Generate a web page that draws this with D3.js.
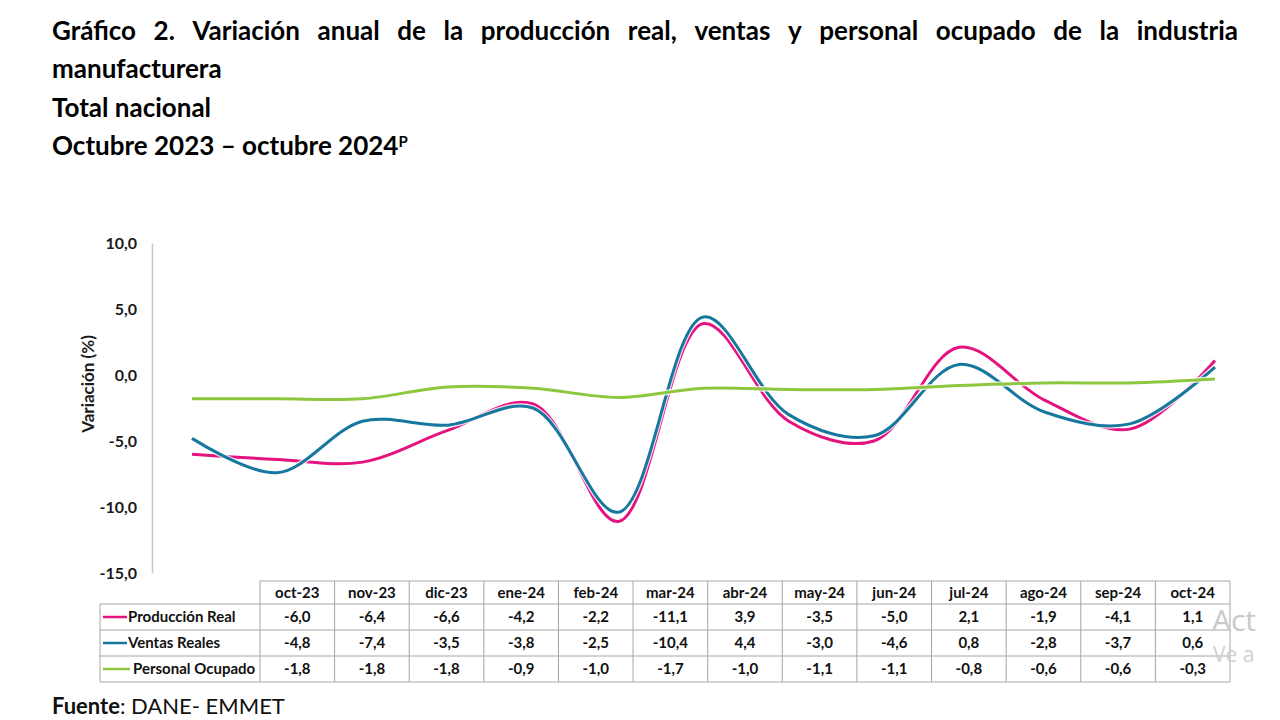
<!DOCTYPE html>
<html><head><meta charset="utf-8">
<script src="https://cdn.jsdelivr.net/npm/d3@7"></script>
<style>body{margin:0;background:#fff}svg{display:block}</style>
</head><body>
<svg id="c" width="1280" height="720"></svg>
<script>
const months = ["oct-23","nov-23","dic-23","ene-24","feb-24","mar-24","abr-24","may-24","jun-24","jul-24","ago-24","sep-24","oct-24"];
const produccionReal = [-6.0,-6.4,-6.6,-4.2,-2.2,-11.1,3.9,-3.5,-5.0,2.1,-1.9,-4.1,1.1];
const ventasReales = [-4.8,-7.4,-3.5,-3.8,-2.5,-10.4,4.4,-3.0,-4.6,0.8,-2.8,-3.7,0.6];
const personalOcupado = [-1.8,-1.8,-1.8,-0.9,-1.0,-1.7,-1.0,-1.1,-1.1,-0.8,-0.6,-0.6,-0.3];
const seriesNames = ["Producción Real","Ventas Reales","Personal Ocupado"];
const seriesColors = ["#e5137f","#17789f","#8dc63f"];
const yTicks = [10,5,0,-5,-10,-15];

const series = [produccionReal, ventasReales, personalOcupado];
const svg = d3.select("#c");
const FONT = "Lato, 'Open Sans', sans-serif";
const fmt = v => d3.format(".1f")(v).replace(".", ",").replace("−","-");

// Title
const tg = svg.append("g").attr("font-family", FONT).attr("font-weight", 700).attr("font-size", 26).attr("fill", "#000");
function justify(text, x0, x1, yy) {
  const words = text.split(" ");
  const nodes = words.map(w => tg.append("text").attr("y", yy).text(w));
  const widths = nodes.map(n => n.node().getComputedTextLength());
  const gap = (x1 - x0 - d3.sum(widths)) / (words.length - 1);
  let xx = x0;
  nodes.forEach((n, i) => { n.attr("x", xx); xx += widths[i] + gap; });
}
justify("Gráfico 2. Variación anual de la producción real, ventas y personal ocupado de la industria", 52, 1238, 40);
tg.append("text").attr("x", 52).attr("y", 78).text("manufacturera");
tg.append("text").attr("x", 52).attr("y", 117).text("Total nacional");
const t4 = tg.append("text").attr("x", 52).attr("y", 155).text("Octubre 2023 – octubre 2024");
t4.append("tspan").attr("font-size", 15).attr("dy", -8).text("P");

// Scales
const x = d3.scalePoint().domain(months).range([192, 1215]);
const y = d3.scaleLinear().domain([-15, 10]).range([573, 243]);

// Y axis
const ya = svg.append("g").attr("transform", "translate(152,0)")
  .call(d3.axisLeft(y).tickValues(yTicks).tickSize(0).tickPadding(15).tickFormat(fmt));
ya.select(".domain").attr("stroke", "#c8c8c8").attr("stroke-width", 1.5);
ya.selectAll("text").attr("font-family", FONT).attr("font-weight", 700).attr("font-size", 16).attr("fill", "#1a1a1a");

svg.append("text").attr("transform", "translate(94,384) rotate(-90)")
  .attr("text-anchor", "middle").attr("font-family", FONT).attr("font-weight", 700)
  .attr("font-size", 17).attr("fill", "#1a1a1a").text("Variación (%)");

// Lines
const line = d3.line().x((d, i) => x(months[i])).y(d => y(d)).curve(d3.curveCatmullRom.alpha(0.5));
const lg = svg.append("g").attr("fill", "none");
series.forEach((s, i) => {
  lg.append("path").attr("d", line(s)).attr("stroke", "#fff").attr("stroke-width", 5.5).attr("opacity", 0.8);
  lg.append("path").attr("d", line(s)).attr("stroke", seriesColors[i]).attr("stroke-width", 3);
});

// Data table
const colX = d3.scaleBand().domain(months).range([260, 1230]);
const rowTops = [581, 604, 630, 656, 682];
const tb = svg.append("g").attr("font-family", FONT).attr("font-weight", 700).attr("font-size", 15).attr("fill", "#111");
const bc = "#a6a6a6";
tb.append("line").attr("x1", 260).attr("x2", 1230).attr("y1", rowTops[0]).attr("y2", rowTops[0]).attr("stroke", bc);
[1,2,3,4].forEach(r => tb.append("line").attr("x1", 100).attr("x2", 1230).attr("y1", rowTops[r]).attr("y2", rowTops[r]).attr("stroke", bc));
tb.append("line").attr("x1", 100).attr("x2", 100).attr("y1", rowTops[1]).attr("y2", rowTops[4]).attr("stroke", bc);
months.concat(["end"]).forEach(m => {
  const xx = m === "end" ? 1230 : colX(m);
  tb.append("line").attr("x1", xx).attr("x2", xx).attr("y1", rowTops[0]).attr("y2", rowTops[4]).attr("stroke", bc);
});
months.forEach(m => {
  tb.append("text").attr("x", colX(m) + colX.bandwidth() / 2).attr("y", (rowTops[0] + rowTops[1]) / 2 + 5)
    .attr("text-anchor", "middle").text(m);
});
series.forEach((s, r) => {
  const cy = (rowTops[r + 1] + rowTops[r + 2]) / 2;
  tb.append("line").attr("x1", 103).attr("x2", r === 2 ? 130 : 127).attr("y1", cy).attr("y2", cy)
    .attr("stroke", seriesColors[r]).attr("stroke-width", 2.5);
  tb.append("text").attr("x", r === 2 ? 133 : 128).attr("y", cy + 5).text(seriesNames[r]);
  s.forEach((v, i) => {
    tb.append("text").attr("x", colX(months[i]) + colX.bandwidth() / 2).attr("y", cy + 5)
      .attr("text-anchor", "middle").text(fmt(v));
  });
});

// Source
const src = svg.append("text").attr("x", 52).attr("y", 714).attr("font-family", FONT).attr("font-size", 22).attr("fill", "#111");
src.append("tspan").attr("font-weight", 700).text("Fuente");
src.append("tspan").text(": DANE- EMMET");

// faint overlay text at right edge
svg.append("text").attr("x", 1212).attr("y", 631).attr("font-family", "'Open Sans', sans-serif").attr("font-size", 30).attr("fill", "#c9c9c9").text("Act");
svg.append("text").attr("x", 1213).attr("y", 662).attr("font-family", "'Open Sans', sans-serif").attr("font-size", 21).attr("fill", "#d0d0d0").text("Ve a");
</script>
</body></html>
